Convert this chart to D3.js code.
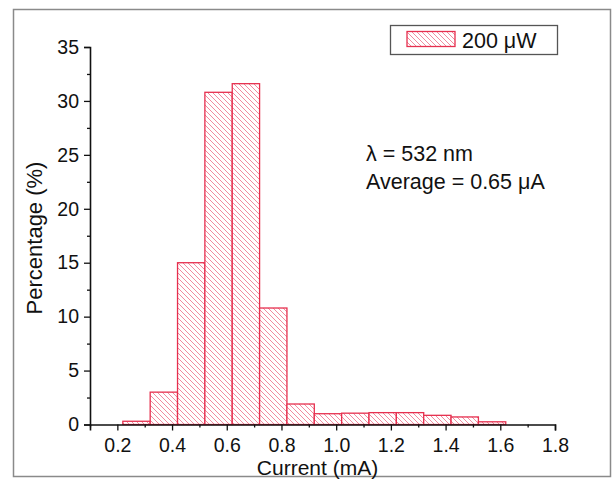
<!DOCTYPE html>
<html>
<head>
<meta charset="utf-8">
<script src="https://cdn.jsdelivr.net/npm/d3@7"></script>
<style>
  html, body { margin: 0; padding: 0; background: #fff; }
  svg { display: block; font-family: "Liberation Sans", Arial, sans-serif; }
</style>
</head>
<body>
<svg id="chart" width="614" height="481"></svg>
<script>
// ---- data ----
const binStarts = [0.22, 0.32, 0.42, 0.52, 0.62, 0.72, 0.82, 0.92, 1.02, 1.12, 1.22, 1.32, 1.42, 1.52];
const binWidth = 0.1;
const percentages = [0.3, 3.0, 15.0, 30.8, 31.6, 10.8, 1.9, 1.0, 1.05, 1.1, 1.1, 0.85, 0.7, 0.25];
const xTicks = [0.2, 0.4, 0.6, 0.8, 1.0, 1.2, 1.4, 1.6, 1.8];
const yTicks = [0, 5, 10, 15, 20, 25, 30, 35];
const seriesName = "200 \u03BCW";
const annotations = ["\u03BB = 532 nm", "Average = 0.65 \u03BCA"];
const xTitle = "Current (mA)";
const yTitle = "Percentage (%)";

(function () {
// ---- layout ----
const svg = d3.select("#chart");
const red = "#e6304f";
const hatchCol = "#ee6d86";
const mLeft = 90, mRight = 555, mTop = 47, mBottom = 424.5;

const x = d3.scaleLinear().domain([0.1, 1.8]).range([mLeft, mRight]);
const y = d3.scaleLinear().domain([0, 35]).range([mBottom, mTop]);

// outer frame
svg.append("rect").attr("x", 13.5).attr("y", 9.5).attr("width", 597).attr("height", 467)
  .attr("fill", "none").attr("stroke", "#8a8a8a").attr("stroke-width", 1.5);

// hatch pattern
const defs = svg.append("defs");
const pat = defs.append("pattern").attr("id", "hatch").attr("patternUnits", "userSpaceOnUse")
  .attr("width", 5).attr("height", 5);
pat.append("rect").attr("width", 5).attr("height", 5).attr("fill", "#fff");
pat.append("path").attr("d", "M0,0 L5,5 M-1,4 L1,6 M4,-1 L6,1")
  .attr("stroke", hatchCol).attr("stroke-width", 0.8);

// bars
svg.append("g").selectAll("rect").data(binStarts).join("rect")
  .attr("x", (d) => x(d))
  .attr("width", (d) => x(d + binWidth) - x(d))
  .attr("y", (d, i) => y(percentages[i]))
  .attr("height", (d, i) => y(0) - y(percentages[i]))
  .attr("fill", "url(#hatch)")
  .attr("stroke", red).attr("stroke-width", 1.3);

// axes
const xAxis = d3.axisBottom(x).tickValues(xTicks).tickSize(6).tickPadding(8)
  .tickFormat(d3.format(".1f"));
const xMinor = d3.axisBottom(x).tickValues(d3.range(0.1, 1.81, 0.2).map(v => +v.toFixed(2))).tickSize(3).tickFormat("");
const gxm = svg.append("g").attr("transform", `translate(0,${mBottom})`).call(xMinor);
const gx = svg.append("g").attr("transform", `translate(0,${mBottom})`).call(xAxis);

const yAxis = d3.axisLeft(y).tickValues(yTicks).tickSize(6).tickPadding(5);
const yMinor = d3.axisLeft(y).tickValues(d3.range(2.5, 35, 5)).tickSize(3).tickFormat("");
const gym = svg.append("g").attr("transform", `translate(${mLeft},0)`).call(yMinor);
const gy = svg.append("g").attr("transform", `translate(${mLeft},0)`).call(yAxis);

[gx, gy, gxm, gym].forEach(g => {
  g.select(".domain").attr("stroke", "#111").attr("stroke-width", 1.6);
  g.selectAll(".tick line").attr("stroke", "#111").attr("stroke-width", 1.3);
  g.selectAll(".tick text").attr("fill", "#111").attr("font-size", 19.5)
    .attr("font-family", "'Liberation Sans', Arial, sans-serif");
});
gxm.select(".domain").remove();
gym.select(".domain").remove();

// axis titles
svg.append("text").attr("x", (mLeft + mRight) / 2 - 5).attr("y", 474.5)
  .attr("text-anchor", "middle").attr("font-size", 21).attr("fill", "#111").text(xTitle);
svg.append("text").attr("transform", `translate(42,238) rotate(-90)`)
  .attr("text-anchor", "middle").attr("font-size", 22).attr("fill", "#111").text(yTitle);

// legend
const lg = svg.append("g");
lg.append("rect").attr("x", 390.5).attr("y", 25.5).attr("width", 167).attr("height", 29)
  .attr("fill", "#fff").attr("stroke", "#555").attr("stroke-width", 1.3);
lg.append("rect").attr("x", 407).attr("y", 31.5).attr("width", 48).attr("height", 15)
  .attr("fill", "url(#hatch)").attr("stroke", red).attr("stroke-width", 1.3);
lg.append("text").attr("x", 462).attr("y", 48).attr("font-size", 21.5).attr("fill", "#111").text(seriesName);

// annotations
svg.append("g").selectAll("text").data(annotations).join("text")
  .attr("x", 366).attr("y", (d, i) => 161 + i * 28)
  .attr("font-size", 21.5).attr("fill", "#111").text(d => d);
})();
</script>
</body>
</html>
